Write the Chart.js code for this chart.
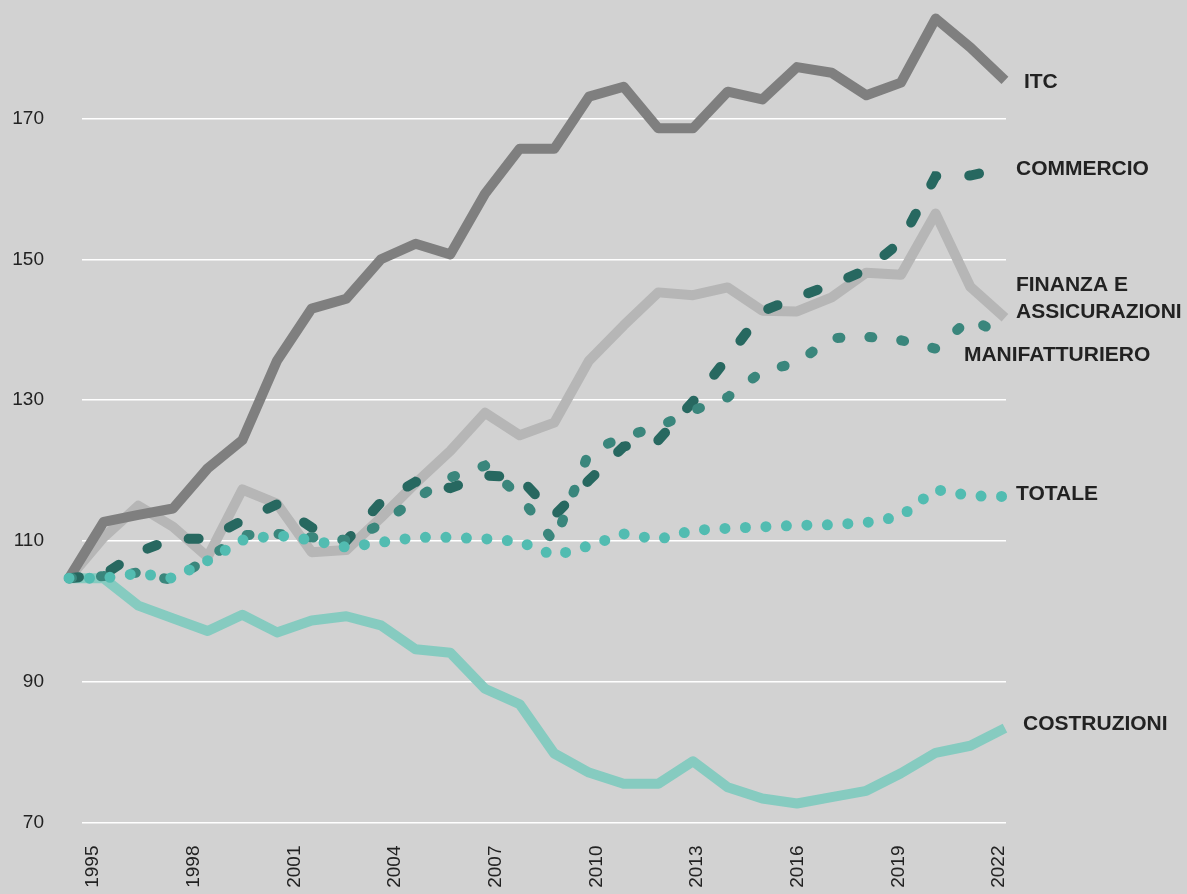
<!DOCTYPE html>
<html lang="it">
<head>
<meta charset="utf-8">
<title>Indici di produttività per settore</title>
<script src="https://cdn.jsdelivr.net/npm/chart.js@4.4.1/dist/chart.umd.min.js"></script>
<style>
  html, body { margin: 0; padding: 0; background: #d2d2d2; }
  #wrap { width: 1187px; height: 894px; }
</style>
</head>
<body>
<div id="wrap"><canvas id="chart" width="1187" height="894"></canvas></div>
<script>
// ============================================================
// Dati (indice, 1995-2022)
// ============================================================
const years = [1995, 1996, 1997, 1998, 1999, 2000, 2001, 2002, 2003, 2004,
               2005, 2006, 2007, 2008, 2009, 2010, 2011, 2012, 2013, 2014,
               2015, 2016, 2017, 2018, 2019, 2020, 2021, 2022];

const itc          = [104.7, 112.7, 113.7, 114.6, 120.3, 124.3, 135.6, 143.0, 144.4, 150.0,
                      152.2, 150.7, 159.3, 165.7, 165.7, 173.1, 174.5, 168.6, 168.6, 173.8,
                      172.7, 177.3, 176.5, 173.3, 175.1, 184.2, 180.1, 175.4];
const commercio    = [104.7, 105.2, 108.4, 110.3, 110.3, 112.9, 115.2, 111.9, 110.0, 115.5,
                      118.4, 117.5, 119.3, 119.0, 113.6, 118.6, 123.4, 124.3, 129.8, 136.0,
                      142.6, 144.6, 146.4, 148.5, 152.5, 161.8, 161.9, 163.0];
const finanza      = [104.7, 110.5, 115.0, 112.0, 107.7, 117.3, 115.3, 108.4, 108.7, 113.3,
                      118.2, 122.8, 128.2, 125.0, 126.8, 135.6, 140.6, 145.3, 144.9, 146.0,
                      142.7, 142.6, 144.6, 148.1, 147.8, 156.5, 146.1, 141.7];
const manifattura  = [104.7, 105.0, 105.5, 104.4, 107.5, 110.8, 111.0, 110.5, 110.1, 112.3,
                      116.0, 119.0, 120.7, 116.4, 109.8, 122.6, 124.8, 126.2, 128.5, 130.4,
                      134.1, 135.3, 138.8, 139.0, 138.5, 137.3, 141.6, 139.0];
const totale       = [104.7, 104.7, 105.4, 104.7, 107.2, 110.1, 110.8, 110.1, 109.1, 109.8,
                      110.5, 110.5, 110.3, 109.9, 107.9, 109.3, 111.0, 110.2, 111.5, 111.8,
                      112.0, 112.2, 112.3, 112.6, 113.5, 117.3, 116.4, 116.3];
const costruzioni  = [104.7, 104.7, 100.8, 99.0, 97.2, 99.5, 97.0, 98.7, 99.3, 98.0,
                      94.6, 94.1, 89.0, 86.8, 79.8, 77.1, 75.5, 75.5, 78.7, 75.0,
                      73.4, 72.7, 73.6, 74.5, 77.0, 79.9, 80.9, 83.4];

const xTicks = [1995, 1998, 2001, 2004, 2007, 2010, 2013, 2016, 2019, 2022];
const yTicks = [70, 90, 110, 130, 150, 170];

const FONT = '"Liberation Sans", Arial, sans-serif';
const INK  = '#222222';

const pts = arr => arr.map((v, i) => ({ x: years[i], y: v }));

// stile comune delle serie
const line = (values, color, extra) => Object.assign({
  data: pts(values),
  borderColor: color,
  borderWidth: 10,
  pointRadius: 0,
  pointHoverRadius: 0,
  tension: 0,
  fill: false,
  clip: false,
}, extra);

// il primo dataset è disegnato sopra gli altri
const datasets = [
  line(totale, '#52bcb1', { borderWidth: 11, borderDash: [0, 20.5], borderCapStyle: 'round',
    endLabel: { lines: ['TOTALE'], dx: 11, dy: -2 } }),
  line(manifattura, '#3a867c', { borderDash: [3, 29], borderCapStyle: 'round',
    endLabel: { lines: ['MANIFATTURIERO'], dx: -41, dy: 18 } }),
  line(commercio, '#276860', { borderDash: [10, 33], borderCapStyle: 'round',
    endLabel: { lines: ['COMMERCIO'], dx: 11, dy: 1 } }),
  line(itc, '#7f7f7f', { borderJoinStyle: 'round',
    endLabel: { lines: ['ITC'], dx: 19, dy: 2 } }),
  line(finanza, '#b6b6b6', { borderJoinStyle: 'round',
    endLabel: { lines: ['FINANZA E', 'ASSICURAZIONI'], dx: 11, dy: -33 } }),
  line(costruzioni, '#86cbc0', { borderJoinStyle: 'round',
    endLabel: { lines: ['COSTRUZIONI'], dx: 18, dy: -4 } }),
];

// Etichette a fine linea
const endLabels = {
  id: 'endLabels',
  afterDatasetsDraw(chart) {
    const ctx = chart.ctx;
    ctx.save();
    ctx.font = 'bold 21px ' + FONT;
    ctx.fillStyle = INK;
    ctx.textAlign = 'left';
    ctx.textBaseline = 'middle';
    chart.data.datasets.forEach((ds, i) => {
      const lab = ds.endLabel;
      if (!lab) return;
      const meta = chart.getDatasetMeta(i);
      const last = meta.data[meta.data.length - 1];
      lab.lines.forEach((txt, k) => {
        ctx.fillText(txt, last.x + lab.dx, last.y + lab.dy + k * 27);
      });
    });
    ctx.restore();
  },
};

new Chart(document.getElementById('chart'), {
  type: 'line',
  data: { datasets },
  plugins: [endLabels],
  options: {
    responsive: false,
    animation: false,
    events: [],
    layout: { padding: { top: 5, right: 181, left: 0, bottom: 0 } },
    plugins: { legend: { display: false }, tooltip: { enabled: false } },
    scales: {
      x: {
        type: 'linear',
        display: false,
        bounds: 'data',
        min: 1995.375,
        max: 2022.03,
      },
      // asse solo per le etichette degli anni
      xLabels: {
        type: 'linear',
        position: 'bottom',
        bounds: 'data',
        min: 1994.672,
        max: 2022.205,
        grid: { display: false, drawTicks: false },
        border: { display: false },
        afterBuildTicks: s => { s.ticks = xTicks.map(v => ({ value: v })); },
        afterFit: s => { s.height = 71.5; },
        ticks: {
          autoSkip: false,
          minRotation: 90,
          maxRotation: 90,
          padding: 23,
          color: INK,
          font: { family: FONT, size: 19 },
          callback: v => String(v),
        },
      },
      y: {
        type: 'linear',
        bounds: 'data',
        min: 70,
        max: 186.12,
        afterBuildTicks: s => { s.ticks = yTicks.map(v => ({ value: v })); },
        // la padding delle etichette non deve spingere giù l'area del grafico
        afterFit: s => { s.width = 82; s.paddingTop = 0; s.paddingBottom = 0; },
        grid: { color: '#ffffff', lineWidth: 1.5, drawTicks: false },
        border: { display: false },
        ticks: {
          padding: 38,
          color: INK,
          font: { family: FONT, size: 19 },
          callback: v => String(v),
        },
      },
    },
  },
});
</script>
</body>
</html>
